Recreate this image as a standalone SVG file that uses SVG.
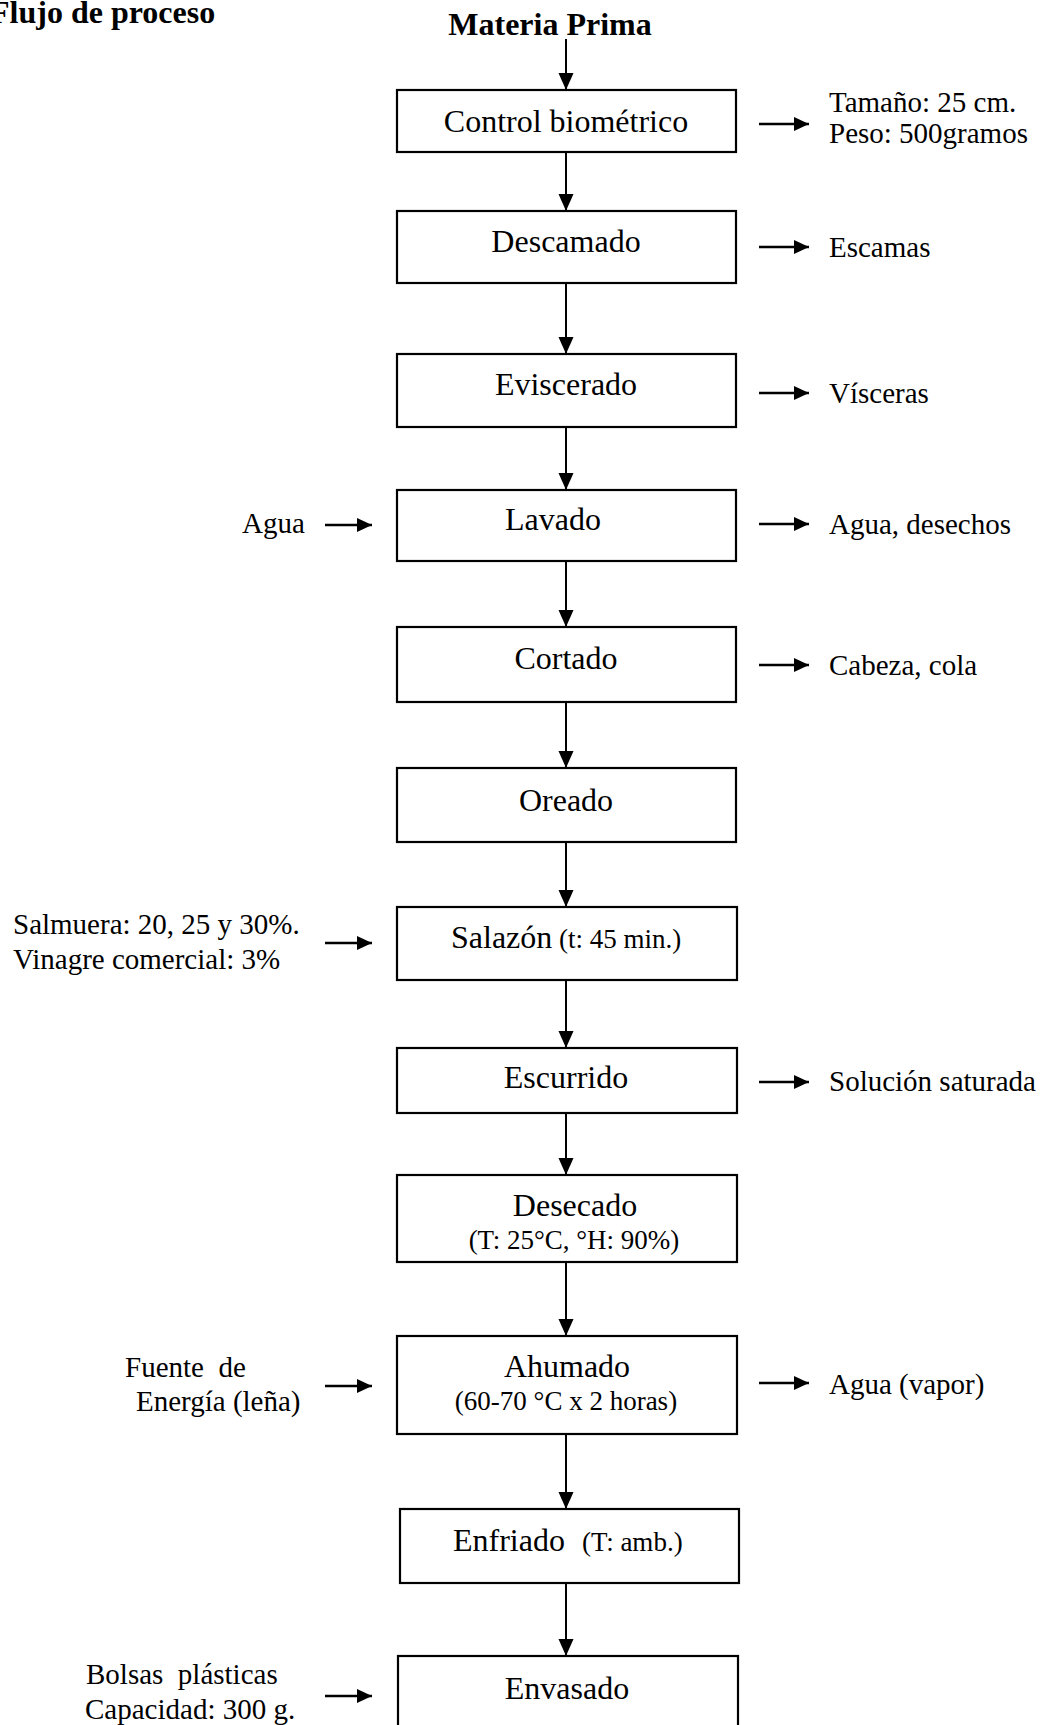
<svg xmlns="http://www.w3.org/2000/svg" width="1050" height="1725" viewBox="0 0 1050 1725">
<defs>
<style>
text{font-family:"Liberation Serif","Times New Roman",serif;fill:#000}
.t{font-size:32px;text-anchor:middle}
.s{font-size:27px}
.l{font-size:29px}
.b{font-weight:bold;font-size:32px}
.box{fill:#fff;stroke:#000;stroke-width:2.2}
.v{stroke:#000;stroke-width:2;fill:none;marker-end:url(#av)}
.h{stroke:#000;stroke-width:2.6;fill:none;marker-end:url(#ah)}
</style>
<marker id="av" markerUnits="userSpaceOnUse" markerWidth="18" markerHeight="16" refX="17" refY="7.5" orient="auto"><path d="M0,0 L17,7.5 L0,15 z" fill="#000"/></marker>
<marker id="ah" markerUnits="userSpaceOnUse" markerWidth="16" markerHeight="15" refX="15" refY="7" orient="auto"><path d="M0,0 L15,7 L0,14 z" fill="#000"/></marker>
</defs>
<rect width="1050" height="1725" fill="#fff"/>
<text class="b" x="-10" y="23">Flujo de proceso</text>
<text class="b" x="550" y="35" text-anchor="middle">Materia Prima</text>

<g id="connectors">
<line class="v" x1="566" y1="39" x2="566" y2="90"/>
<line class="v" x1="566" y1="152" x2="566" y2="211"/>
<line class="v" x1="566" y1="283" x2="566" y2="354"/>
<line class="v" x1="566" y1="427" x2="566" y2="490"/>
<line class="v" x1="566" y1="561" x2="566" y2="627"/>
<line class="v" x1="566" y1="702" x2="566" y2="768"/>
<line class="v" x1="566" y1="842" x2="566" y2="907"/>
<line class="v" x1="566" y1="980" x2="566" y2="1048"/>
<line class="v" x1="566" y1="1113" x2="566" y2="1175"/>
<line class="v" x1="566" y1="1262" x2="566" y2="1336"/>
<line class="v" x1="566" y1="1434" x2="566" y2="1509"/>
<line class="v" x1="566" y1="1583" x2="566" y2="1656"/>
<line class="h" x1="759" y1="124" x2="809" y2="124"/>
<line class="h" x1="759" y1="247" x2="809" y2="247"/>
<line class="h" x1="759" y1="393" x2="809" y2="393"/>
<line class="h" x1="759" y1="524" x2="809" y2="524"/>
<line class="h" x1="759" y1="665" x2="809" y2="665"/>
<line class="h" x1="759" y1="1082" x2="809" y2="1082"/>
<line class="h" x1="759" y1="1383" x2="809" y2="1383"/>
<line class="h" x1="325" y1="525" x2="372" y2="525"/>
<line class="h" x1="325" y1="943" x2="372" y2="943"/>
<line class="h" x1="325" y1="1386" x2="372" y2="1386"/>
<line class="h" x1="325" y1="1696" x2="372" y2="1696"/>
</g>

<g id="n1"><rect class="box" x="397" y="90" width="339" height="62"/><text class="t" x="566" y="132">Control biométrico</text></g>
<g id="n2"><rect class="box" x="397" y="211" width="339" height="72"/><text class="t" x="566" y="252">Descamado</text></g>
<g id="n3"><rect class="box" x="397" y="354" width="339" height="73"/><text class="t" x="566" y="395">Eviscerado</text></g>
<g id="n4"><rect class="box" x="397" y="490" width="339" height="71"/><text class="t" x="553" y="530">Lavado</text></g>
<g id="n5"><rect class="box" x="397" y="627" width="339" height="75"/><text class="t" x="566" y="669">Cortado</text></g>
<g id="n6"><rect class="box" x="397" y="768" width="339" height="74"/><text class="t" x="566" y="811">Oreado</text></g>
<g id="n7"><rect class="box" x="397" y="907" width="340" height="73"/><text x="451" y="948" style="font-size:32px">Salazón<tspan class="s"> (t: 45 min.)</tspan></text></g>
<g id="n8"><rect class="box" x="397" y="1048" width="340" height="65"/><text class="t" x="566" y="1088">Escurrido</text></g>
<g id="n9"><rect class="box" x="397" y="1175" width="340" height="87"/><text class="t" x="575" y="1216">Desecado</text><text class="s" x="574" y="1249" text-anchor="middle">(T: 25°C, °H: 90%)</text></g>
<g id="n10"><rect class="box" x="397" y="1336" width="340" height="98"/><text class="t" x="567" y="1377">Ahumado</text><text class="s" x="566" y="1410" text-anchor="middle">(60-70 °C x 2 horas)</text></g>
<g id="n11"><rect class="box" x="400" y="1509" width="339" height="74"/><text x="453" y="1551" style="font-size:32px">Enfriado<tspan class="s" x="582">(T: amb.)</tspan></text></g>
<g id="n12"><rect class="box" x="398" y="1656" width="340" height="90"/><text class="t" x="567" y="1699">Envasado</text></g>

<g id="outputs">
<text class="l" x="829" y="112">Tamaño: 25 cm.</text>
<text class="l" x="829" y="143">Peso: 500gramos</text>
<text class="l" x="829" y="257">Escamas</text>
<text class="l" x="829" y="403">Vísceras</text>
<text class="l" x="829" y="534">Agua, desechos</text>
<text class="l" x="829" y="675">Cabeza, cola</text>
<text class="l" x="829" y="1091">Solución saturada</text>
<text class="l" x="829" y="1394">Agua (vapor)</text>
</g>
<g id="inputs">
<text class="l" x="242" y="533">Agua</text>
<text class="l" x="13" y="934">Salmuera: 20, 25 y 30%.</text>
<text class="l" x="13" y="969">Vinagre comercial: 3%</text>
<text class="l" x="125" y="1377">Fuente&#160; de</text>
<text class="l" x="136" y="1411">Energía (leña)</text>
<text class="l" x="86" y="1684">Bolsas&#160; plásticas</text>
<text class="l" x="85" y="1719">Capacidad: 300 g.</text>
</g>
</svg>
